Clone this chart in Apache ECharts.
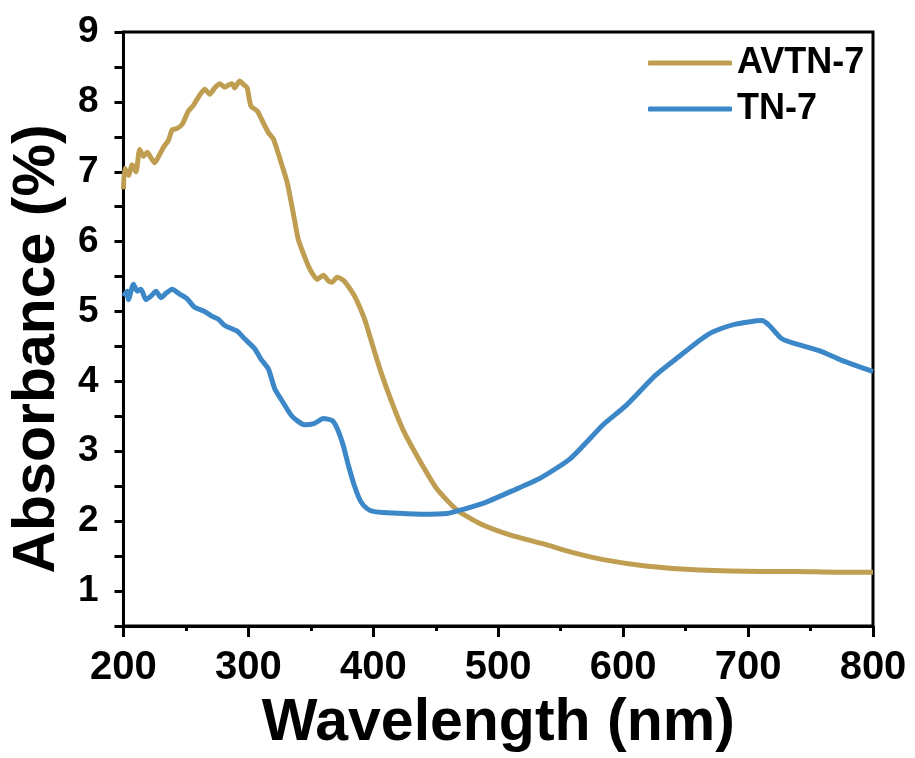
<!DOCTYPE html>
<html>
<head>
<meta charset="utf-8">
<script src="https://cdn.jsdelivr.net/npm/echarts@6/dist/echarts.min.js"></script>
<style>
  html, body { margin: 0; padding: 0; background: #fff; }
  #chart { width: 915px; height: 758px; }
</style>
</head>
<body>
<div id="chart"></div>
<script>
// AVTN-7 (gold)
const avtnX = [200, 201, 204, 207, 210, 213, 216, 219, 222, 225, 229, 232, 236, 239, 243, 247, 252, 256, 259, 265,
  269, 273, 277, 281, 285, 287, 289, 293, 296, 299, 302, 307, 310, 316, 320, 325, 331, 336, 340, 346,
  350, 355, 360, 364, 367, 371, 374, 377, 385, 393, 398, 406, 414, 424, 438, 451, 467, 486, 510, 539,
  560, 584, 618, 661, 711, 738, 770, 800]
const avtnY = [6.75, 7.05, 6.95, 7.1, 7.0, 7.32, 7.22, 7.28, 7.2, 7.13, 7.25, 7.35, 7.45, 7.6, 7.62, 7.68, 7.87, 7.95, 8.04, 8.18,
  8.11, 8.2, 8.26, 8.21, 8.25, 8.26, 8.2, 8.3, 8.25, 8.2, 7.94, 7.87, 7.77, 7.56, 7.47, 7.2, 6.85, 6.4, 6.03, 5.74,
  5.58, 5.46, 5.52, 5.44, 5.42, 5.49, 5.47, 5.43, 5.22, 4.89, 4.6, 4.14, 3.74, 3.3, 2.84, 2.46, 2.16, 1.96, 1.8, 1.66,
  1.55, 1.45, 1.36, 1.3, 1.28, 1.28, 1.27, 1.27]

// TN-7 (blue)
const tnX = [200, 203, 204, 208, 211, 214, 218, 222, 226, 230, 234, 239, 245, 251, 257, 265, 271, 276, 281, 291,
  297, 305, 310, 316, 321, 327, 335, 345, 353, 360, 367, 371, 376, 380, 385, 390, 395, 400, 411, 438, 459, 472,
  490, 512, 534, 558, 584, 602, 626, 645, 663, 672, 690, 711, 717, 727, 738, 757, 775, 800]
const tnY = [5.22, 5.29, 5.17, 5.39, 5.29, 5.32, 5.17, 5.22, 5.29, 5.2, 5.26, 5.32, 5.25, 5.18, 5.06, 5.0, 4.93, 4.89, 4.8, 4.72,
  4.61, 4.47, 4.32, 4.18, 3.9, 3.72, 3.5, 3.38, 3.4, 3.47, 3.44, 3.33, 3.08, 2.8, 2.5, 2.28, 2.18, 2.14, 2.12, 2.1, 2.11, 2.17,
  2.27, 2.44, 2.62, 2.9, 3.38, 3.65, 4.09, 4.36, 4.61, 4.71, 4.82, 4.87, 4.8, 4.61, 4.54, 4.44, 4.3, 4.14]

const seriesNames = ['AVTN-7', 'TN-7']
const seriesColors = ['#BF9E52', '#3B87C8']

const toPairs = (xs, ys) => xs.map((x, i) => [x, ys[i]])

const chart = echarts.init(document.getElementById('chart'))
const font = 'Liberation Sans, Arial, sans-serif'

const options = {
  animation: false,
  color: seriesColors,
  textStyle: { fontFamily: font },
  grid: {
    left: 118,
    top: 32,
    right: 42,
    bottom: 130,
    show: true,
    borderColor: '#000',
    borderWidth: 3
  },
  legend: {
    left: 643,
    top: 40,
    orient: 'vertical',
    icon: 'roundRect',
    itemWidth: 84,
    itemHeight: 5,
    itemGap: 10,
    textStyle: {
      color: '#000',
      fontSize: 36,
      fontWeight: 'bold',
      fontFamily: font
    }
  },
  xAxis: {
    type: 'value',
    min: 200,
    max: 800,
    interval: 100,
    name: 'Wavelength (nm)',
    nameLocation: 'middle',
    nameGap: 68,
    nameTextStyle: { color: '#000', fontSize: 59, fontWeight: 'bold', fontFamily: font },
    axisLine: { show: true, lineStyle: { color: '#000', width: 3 } },
    axisTick: { show: true, inside: false, length: 11, lineStyle: { color: '#000', width: 3 } },
    minorTick: { show: true, splitNumber: 2, length: 5, lineStyle: { color: '#000', width: 3 } },
    axisLabel: { color: '#000', fontSize: 40, fontWeight: 'bold', fontFamily: font, margin: 22 },
    splitLine: { show: false },
    minorSplitLine: { show: false }
  },
  yAxis: {
    type: 'value',
    min: 0.5,
    max: 9,
    interval: 0.5,
    name: 'Absorbance (%)',
    nameLocation: 'middle',
    nameGap: 46,
    nameTextStyle: {
      color: '#000',
      fontSize: 59,
      fontWeight: 'bold',
      fontFamily: font,
      padding: [0, 40, 0, 0]
    },
    axisLine: { show: true, lineStyle: { color: '#000', width: 3 } },
    axisTick: { show: true, inside: false, length: 9, lineStyle: { color: '#000', width: 3 } },
    axisLabel: {
      color: '#000',
      fontSize: 37,
      fontWeight: 'bold',
      fontFamily: font,
      margin: 25,
      formatter: (v) => (Number.isInteger(v) ? String(v) : '')
    },
    splitLine: { show: false }
  },
  series: [
    {
      name: seriesNames[0],
      type: 'line',
      data: toPairs(avtnX, avtnY),
      showSymbol: false,
      symbol: 'none',
      smooth: 0.2,
      lineStyle: { width: 5 }
    },
    {
      name: seriesNames[1],
      type: 'line',
      data: toPairs(tnX, tnY),
      showSymbol: false,
      symbol: 'none',
      smooth: 0.2,
      lineStyle: { width: 5 }
    }
  ]
}

chart.setOption(options)
</script>
</body>
</html>
